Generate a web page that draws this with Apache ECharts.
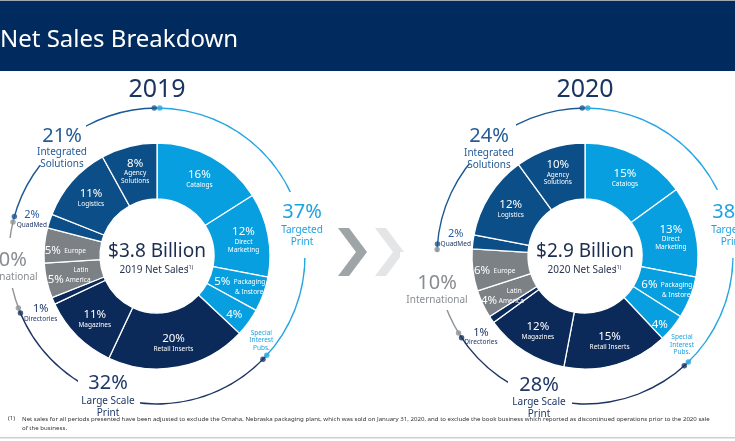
<!DOCTYPE html>
<html>
<head>
<meta charset="utf-8">
<script src="https://cdn.jsdelivr.net/npm/echarts@6/dist/echarts.min.js"></script>
<style>
html, body { margin: 0; padding: 0; background: #fff; }
#chart { width: 735px; height: 441px; }
</style>
</head>
<body>
<div id="chart"></div>
<script>
// ---- data ----
const years = ['2019', '2020'];
const totalSales = [3.8, 2.9]; // $ billion
const segmentNames = ['Catalogs', 'Direct Marketing', 'Packaging & Instore', 'Special Interest Pubs.',
    'Retail Inserts', 'Magazines', 'Directories', 'Latin America', 'Europe',
    'QuadMed', 'Logistics', 'Agency Solutions'];
const segmentLabels = ['Catalogs', 'Direct\nMarketing', 'Packaging\n& Instore', 'Special\nInterest\nPubs.',
    'Retail Inserts', 'Magazines', 'Directories', 'Latin\nAmerica', 'Europe',
    'QuadMed', 'Logistics', 'Agency\nSolutions'];
const segmentGroups = [0, 0, 0, 0, 1, 1, 1, 2, 2, 3, 3, 3];
const groupNames = ['Targeted\nPrint', 'Large Scale\nPrint', 'International', 'Integrated\nSolutions'];
const share2019 = [16, 12, 5, 4, 20, 11, 1, 5, 5, 2, 11, 8];
const share2020 = [15, 13, 6, 4, 15, 12, 1, 4, 6, 2, 12, 10];
const shares = [share2019, share2020];
const footnote = 'Net sales for all periods presented have been adjusted to exclude the Omaha, Nebraska packaging plant, which was sold on January 31, 2020, and to exclude the book business which reported as discontinued operations prior to the 2020 sale\nof the business.';

// ---- styling / layout ----
const FONT = '"Noto Sans", "Open Sans", sans-serif';
const groupColors = ['#079fdf', '#0b2959', '#7c8186', '#0c4e87'];
const arcColors = ['#25a5e2', '#1d3563', '#8f9397', '#1c5994'];
const groupTextColors = ['#1ea3e1', '#1f3867', '#898d91', '#255b98'];
const centers = [[157, 256], [585, 256]];
const R_IN = 57, R_OUT = 113, R_ARC = 148;
// how the label sits inside each slice
const insideMode = ['stack', 'stack', 'side', 'pct', 'stack', 'stack', 'none', 'sideTop', 'side', 'none', 'stack', 'stack'];
const outerText = {
    3: i => '{s|Special}\n{s|Interest}\n{s|Pubs.}',
    6: v => '{d|' + v + '%}\n{m|Directories}',
    9: v => '{q|' + v + '%}\n{m|QuadMed}'
};
const innerNudge = [{3: [6, 7], 7: [-2, 1], 8: [-4, 3]}, {3: [7, 13], 7: [-3, 4], 8: [-3, 4]}];
const outerNudge = [{3: [-4, 18], 6: [9, 12], 9: [2.5, -2]}, {3: [-7, 17], 6: [11, 17], 9: [3, -4]}];
// where the group captions sit (and the white gap they cut in the arc)
const groupLabelPos = [
    [[302, 212, 236], [108, 383, 407], [7, 260, 277], [62, 136, 158]],
    [[732, 212, 236], [539, 385, 408], [437, 283, 300], [489, 136, 159]]
];
const groupMasks = [
    [[280, 192, 46, 66], [78, 370, 62, 50], [0, 238, 40, 50], [36, 118, 50, 47]],
    [[708, 190, 30, 68], [508, 372, 64, 48], [400, 252, 70, 58], [462, 118, 54, 46]]
];

const chart = echarts.init(document.getElementById('chart'));
window.addEventListener('resize', function () {
    chart.resize();
});

function groupTotals(s) {
    const t = [0, 0, 0, 0];
    s.forEach((v, i) => { t[segmentGroups[i]] += v; });
    return t;
}

function insideLabel(p) {
    const i = p.dataIndex;
    const pct = '{p|' + p.value + '%}';
    const parts = segmentLabels[i].split('\n');
    switch (insideMode[i]) {
        case 'stack':
            return pct + '\n' + parts.map(s => '{n|' + s + '}').join('\n');
        case 'side':
            return pct + '  {n|' + parts[0] + '}' + (parts[1] ? '\n{r|' + parts[1] + '}' : '');
        case 'sideTop':
            return '{r|' + parts[0] + '}\n' + pct + ' {n|' + parts[1] + '}';
        case 'pct':
            return pct;
        default:
            return '';
    }
}

const insideRich = {
    p: {fontSize: 11.5, color: '#fff', lineHeight: 13, align: 'center', fontFamily: FONT},
    n: {fontSize: 6.5, color: '#fff', lineHeight: 7.5, align: 'center', fontFamily: FONT},
    r: {fontSize: 6.5, color: '#fff', lineHeight: 7.5, align: 'right', padding: [0, 2, 0, 0], fontFamily: FONT}
};
const outerRich = {
    q: {fontSize: 11, color: '#2a5d9e', lineHeight: 12, align: 'center', fontFamily: FONT},
    d: {fontSize: 11, color: '#1f3766', lineHeight: 12, align: 'center', fontFamily: FONT},
    m: {fontSize: 6.5, color: '#1f3766', lineHeight: 8, align: 'center', fontFamily: FONT},
    s: {fontSize: 6.5, color: '#1ea3e1', lineHeight: 7.5, align: 'center', fontFamily: FONT}
};

function nudger(table) {
    return function (params) {
        const n = table[params.dataIndex];
        return n ? {dx: n[0], dy: n[1]} : {};
    };
}

const series = [];
const polar = [], angleAxis = [], radiusAxis = [];

years.forEach((year, k) => {
    const s = shares[k];
    const totals = groupTotals(s);
    const bounds = [0];
    totals.forEach(t => bounds.push(bounds[bounds.length - 1] + t));

    // group arcs
    series.push({
        type: 'pie', z: 1, silent: true, center: centers[k], radius: [R_ARC - 0.7, R_ARC + 0.7],
        startAngle: 90, label: {show: false}, labelLine: {show: false},
        data: totals.map((v, g) => ({name: groupNames[g], value: v, itemStyle: {color: arcColors[g]}}))
    });

    // donut
    series.push({
        type: 'pie', z: 5, silent: true, center: centers[k], radius: [R_IN, R_OUT],
        startAngle: 90, avoidLabelOverlap: false,
        itemStyle: {borderColor: '#fff', borderWidth: 1.3},
        label: {position: 'inside', formatter: insideLabel, rich: insideRich, fontSize: 6.5, color: '#fff', fontFamily: FONT},
        labelLine: {show: false},
        labelLayout: nudger(innerNudge[k]),
        data: s.map((v, i) => ({name: segmentNames[i], value: v, itemStyle: {color: groupColors[segmentGroups[i]]}}))
    });

    // captions outside small slices
    series.push({
        type: 'pie', z: 6, silent: true, center: centers[k], radius: [R_IN, R_OUT],
        startAngle: 90, avoidLabelOverlap: false,
        itemStyle: {color: 'rgba(0,0,0,0)'},
        label: {
            position: 'outside', rich: outerRich, fontSize: 6.5, fontFamily: FONT, distanceToLabelLine: 5,
            formatter: p => outerText[p.dataIndex] ? outerText[p.dataIndex](p.value) : ''
        },
        labelLine: {show: false, length: 0, length2: 0},
        labelLayout: nudger(outerNudge[k]),
        data: s.map((v, i) => ({name: segmentNames[i], value: v, label: {show: !!outerText[i]}}))
    });

    // end dots of the arcs, placed on a matching polar grid
    polar.push({center: centers[k], radius: 150});
    angleAxis.push({polarIndex: k, type: 'value', min: 0, max: 100, startAngle: 90, clockwise: true, show: false});
    radiusAxis.push({polarIndex: k, type: 'value', min: 0, max: 150, show: false});
    const dots = [];
    totals.forEach((t, g) => {
        dots.push({value: [R_ARC, bounds[g] + 0.3], itemStyle: {color: arcColors[g]}});
        dots.push({value: [R_ARC, bounds[g + 1] - 0.3], itemStyle: {color: arcColors[g]}});
    });
    series.push({
        type: 'scatter', coordinateSystem: 'polar', polarIndex: k, z: 7, silent: true,
        symbolSize: 5.5, data: dots
    });
});

function txt(x, y, text, size, color, extra) {
    return {
        type: 'text', z: 20, silent: true,
        style: Object.assign({
            text: text, x: x, y: y, fill: color, font: size + 'px ' + FONT,
            textAlign: 'center', align: 'center', textVerticalAlign: 'middle', verticalAlign: 'middle'
        }, extra || {})
    };
}

const graphics = [
    {type: 'rect', z: 0, silent: true, shape: {x: 0, y: 0, width: 735, height: 1}, style: {fill: '#9ea6b0'}},
    {type: 'rect', z: 0, silent: true, shape: {x: 0, y: 1, width: 735, height: 70}, style: {fill: '#012b5e'}},
    txt(0, 40, 'Net Sales Breakdown', 24, '#ffffff', {textAlign: 'left', align: 'left'}),
    // chevrons
    {type: 'polygon', z: 0, silent: true, shape: {points: [[338, 228], [349, 228], [367, 252], [349, 276], [338, 276], [356, 252]]}, style: {fill: '#9fa4a7'}},
    {type: 'polygon', z: 0, silent: true, shape: {points: [[375, 228], [386, 228], [404, 252], [386, 276], [375, 276], [393, 252]]}, style: {fill: '#e3e5e7'}},
    // footnote
    txt(8, 415, '(1)', 6, '#333', {textAlign: 'left', align: 'left', textVerticalAlign: 'top', verticalAlign: 'top'}),
    txt(22, 415, footnote, 6.1, '#333', {textAlign: 'left', align: 'left', textVerticalAlign: 'top', verticalAlign: 'top', lineHeight: 9}),
    {type: 'rect', z: 0, silent: true, shape: {x: 0, y: 437, width: 735, height: 1.5}, style: {fill: '#cfcfcf'}}
];

years.forEach((year, k) => {
    const c = centers[k];
    const totals = groupTotals(shares[k]);
    graphics.push(txt(c[0], 90, year, 25, '#1b3561'));
    graphics.push(txt(c[0], 252, '$' + totalSales[k].toFixed(1) + ' Billion', 19, '#1c2d50'));
    graphics.push(txt(c[0] - 3, 270, year + ' Net Sales', 10, '#2a3550'));
    graphics.push(txt(c[0] + 33, 267, '(1)', 5.5, '#2a3550'));
    totals.forEach((t, g) => {
        const m = groupMasks[k][g];
        graphics.push({type: 'rect', z: 3, silent: true, shape: {x: m[0], y: m[1], width: m[2], height: m[3]}, style: {fill: '#ffffff'}});
        const pos = groupLabelPos[k][g];
        graphics.push(txt(pos[0], pos[1], t + '%', 20, groupTextColors[g]));
        graphics.push(txt(pos[0], pos[2], groupNames[g], 10, groupTextColors[g], {lineHeight: 11.5}));
    });
});

chart.setOption({
    animation: false,
    backgroundColor: '#ffffff',
    polar: polar,
    angleAxis: angleAxis,
    radiusAxis: radiusAxis,
    series: series,
    graphic: {elements: graphics}
});
</script>
</body>
</html>
